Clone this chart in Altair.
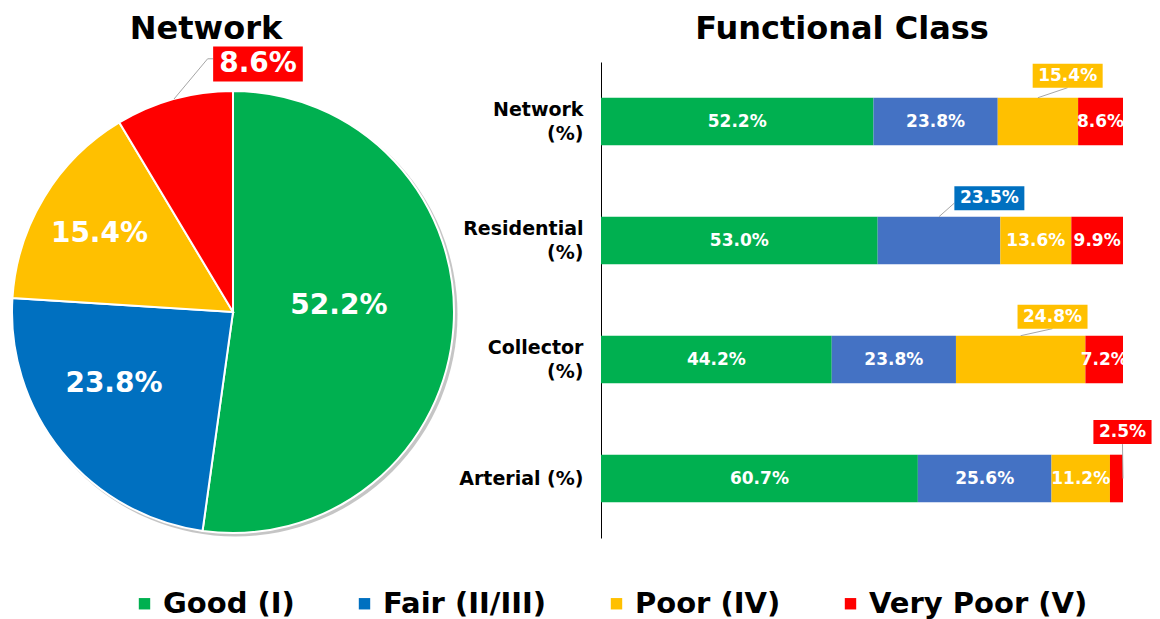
import json
import numpy as np
import pandas as pd
import altair as alt

# ---------------- data ----------------
conditions = ["Good (I)", "Fair (II/III)", "Poor (IV)", "Very Poor (V)"]
pie_colors = ["#00B050", "#0070C0", "#FFC000", "#FF0000"]
bar_colors = ["#00B050", "#4472C4", "#FFC000", "#FF0000"]

network_pct = [52.2, 23.8, 15.4, 8.6]

classes = ["Network", "Residential", "Collector", "Arterial"]
class_tick_labels = ["Network|(%)", "Residential|(%)", "Collector|(%)", "Arterial (%)"]
good = [52.2, 53.0, 44.2, 60.7]
fair = [23.8, 23.5, 23.8, 25.6]
poor = [15.4, 13.6, 24.8, 11.2]
very_poor = [8.6, 9.9, 7.2, 2.5]

# boxed call-out labels in the bar chart (class index, condition index)
callout_class = [0, 1, 2, 3]
callout_cond = [2, 1, 2, 3]
callout_center = [89.4, 74.4, 86.5, 99.9]       # box centre along the % axis
callout_rise = [0.385, 0.355, 0.36, 0.39]       # box centre above the bar centre (rows)
leader_from = ["bottom", "left", "bottom", "bottom"]
leader_to = ["top", "top", "top", "right"]

# pie label placement for the inside labels: radius fraction, angle shift (deg)
pie_label_r = [0.48, 0.63, 0.70]
pie_label_shift = [-7, 8, -1]
pie_callout_center = (0.113, 1.122)             # in radius units

# ---------------- layout constants ----------------
FONT = "DejaVu Sans"
R_PX = 221
PIE_W, PIE_H = 448, 476
CX, CY = 224, 250
BAR_W, BAR_H = 522, 476
PX_PER_PCT = BAR_W / 100.0
PX_PER_ROW = BAR_H / 4.0
LABEL_LH = 24

CHAR_W = {str(d): 0.696 for d in range(10)}
CHAR_W.update({".": 0.380, "%": 1.002})


def text_w(s, size):
    return sum(CHAR_W.get(c, 0.7) for c in s) * size


def fmt(v):
    return f"{v:.1f}%"


# ---------------- pie ----------------
pie_end = np.cumsum(network_pct)
pie_start = pie_end - np.array(network_pct)
pie_df = pd.DataFrame({"cond": conditions, "start": pie_start, "end": pie_end})

xs = alt.Scale(domain=[-CX / R_PX, (PIE_W - CX) / R_PX], nice=False, zero=False)
ys = alt.Scale(domain=[-(PIE_H - CY) / R_PX, CY / R_PX], nice=False, zero=False)
ts = alt.Scale(domain=[0, 100], range=[0, 2 * np.pi])

color_pie = alt.Color(
    "cond:N",
    scale=alt.Scale(domain=conditions, range=pie_colors),
    legend=alt.Legend(
        title=None, orient="none", legendX=121, legendY=527,
        direction="horizontal", columns=4, columnPadding=55,
        symbolType="square", symbolSize=130, symbolStrokeWidth=0,
        labelFont=FONT, labelFontSize=29, labelFontWeight="bold",
        labelColor="black", labelOffset=4, labelLimit=400, padding=0,
    ),
)

shadow_df = pd.DataFrame({"s": [0.0], "e": [100.0], "dx": [2.5 / R_PX], "dy": [-2.5 / R_PX]})
shadow = alt.Chart(shadow_df).mark_arc(radius=R_PX + 1, fill="#7F7F7F", opacity=0.45).encode(
    theta=alt.Theta("s:Q", scale=ts), theta2="e:Q",
    x=alt.X("dx:Q", scale=xs, axis=None),
    y=alt.Y("dy:Q", scale=ys, axis=None),
)

arcs = alt.Chart(pie_df).mark_arc(radius=R_PX, stroke="white", strokeWidth=2).encode(
    theta=alt.Theta("start:Q", scale=ts),
    theta2="end:Q",
    color=color_pie,
    x=alt.XDatum(0, type="quantitative", scale=xs, axis=None),
    y=alt.YDatum(0, type="quantitative", scale=ys, axis=None),
)

mid_ang = (pie_start + pie_end) / 2 / 100 * 2 * np.pi
lab_ang = [mid_ang[i] + np.deg2rad(pie_label_shift[i]) for i in range(3)]
in_lab = pd.DataFrame({
    "x": [pie_label_r[i] * np.sin(lab_ang[i]) for i in range(3)],
    "y": [pie_label_r[i] * np.cos(lab_ang[i]) for i in range(3)],
    "t": [fmt(v) for v in network_pct[:3]],
})
pie_text = alt.Chart(in_lab).mark_text(
    font=FONT, fontSize=28, fontWeight="bold", color="white"
).encode(
    x=alt.X("x:Q", scale=xs, axis=None),
    y=alt.Y("y:Q", scale=ys, axis=None),
    text="t:N",
)

pc_text = fmt(network_pct[3])
bw = (text_w(pc_text, 28) + 12) / R_PX
bh = 35 / R_PX
pcx, pcy = pie_callout_center
pbox_df = pd.DataFrame({"x": [pcx - bw / 2], "x2": [pcx + bw / 2],
                        "y": [pcy - bh / 2], "y2": [pcy + bh / 2],
                        "t": [pc_text], "cx": [pcx], "cy": [pcy]})
pbox = alt.Chart(pbox_df).mark_rect(color=pie_colors[3]).encode(
    x=alt.X("x:Q", scale=xs, axis=None), x2="x2:Q",
    y=alt.Y("y:Q", scale=ys, axis=None), y2="y2:Q",
)
pbox_text = alt.Chart(pbox_df).mark_text(
    font=FONT, fontSize=28, fontWeight="bold", color="white"
).encode(
    x=alt.X("cx:Q", scale=xs, axis=None),
    y=alt.Y("cy:Q", scale=ys, axis=None),
    text="t:N",
)
lead_y = pcy + 0.15 * bh
pleader_df = pd.DataFrame({
    "x": [pcx - bw / 2, pcx - bw / 2 - 0.025, np.sin(mid_ang[3])],
    "y": [lead_y, lead_y, np.cos(mid_ang[3])],
    "o": [0, 1, 2],
})
pleader = alt.Chart(pleader_df).mark_line(color="#A6A6A6", strokeWidth=1).encode(
    x=alt.X("x:Q", scale=xs, axis=None),
    y=alt.Y("y:Q", scale=ys, axis=None),
    order="o:Q",
)

pie_chart = alt.layer(shadow, arcs, pleader, pie_text, pbox, pbox_text).properties(
    width=PIE_W, height=PIE_H,
    title=alt.TitleParams("Network", font=FONT, fontSize=32, fontWeight="bold",
                          color="black", dx=-27, offset=1),
)

# ---------------- bars ----------------
series = [good, fair, poor, very_poor]
rows = []
for ci in range(len(classes)):
    acc = 0.0
    for k in range(4):
        v = series[k][ci]
        rows.append({"ci": ci, "cond": conditions[k], "k": k, "v": v,
                     "start": acc, "end": acc + v, "mid": acc + v / 2,
                     "y": ci + 0.3, "y2": ci + 0.7, "yc": ci + 0.5, "t": fmt(v)})
        acc += v
bar_df = pd.DataFrame(rows)

bx = alt.Scale(domain=[0, 100], nice=False, zero=False)
by = alt.Scale(domain=[0, 4], reverse=True, nice=False, zero=False)

# tick positions: multi-line labels are lifted by half a line so the block is centred
tick_vals = [i + 0.5 - (lab.count("|") * LABEL_LH / 2) / PX_PER_ROW
             for i, lab in enumerate(class_tick_labels)]
label_expr = "split(" + json.dumps(class_tick_labels) + "[floor(datum.value)], '|')"
y_axis = alt.Axis(
    values=tick_vals, labelExpr=label_expr, ticks=False, grid=False,
    domain=True, domainColor="black", domainWidth=1, title=None,
    labelFont=FONT, labelFontSize=19, labelFontWeight="bold", labelColor="black",
    labelPadding=18, labelLineHeight=LABEL_LH, labelAlign="right", labelBaseline="middle",
)

bars = alt.Chart(bar_df).mark_rect().encode(
    x=alt.X("start:Q", scale=bx, axis=None), x2="end:Q",
    y=alt.Y("y:Q", scale=by, axis=y_axis),
    y2="y2:Q",
    color=alt.Color("cond:N", scale=alt.Scale(domain=conditions, range=bar_colors), legend=None),
)

callout_keys = set(zip(callout_class, callout_cond))
inside_df = bar_df[[(r.ci, r.k) not in callout_keys for r in bar_df.itertuples()]]
bar_text = alt.Chart(inside_df).mark_text(
    font=FONT, fontSize=17, fontWeight="bold", color="white"
).encode(
    x=alt.X("mid:Q", scale=bx, axis=None),
    y=alt.Y("yc:Q", scale=by, axis=y_axis),
    text="t:N",
)

crow = []
lrow = []
bh_u = 24 / PX_PER_ROW
for j in range(len(callout_class)):
    ci, k = callout_class[j], callout_cond[j]
    v = series[k][ci]
    t = fmt(v)
    w_u = (text_w(t, 17) + 11) / PX_PER_PCT
    cx = callout_center[j]
    cy = ci + 0.5 - callout_rise[j]
    crow.append({"x": cx - w_u / 2, "x2": cx + w_u / 2, "y": cy - bh_u / 2, "y2": cy + bh_u / 2,
                 "cx": cx, "cy": cy, "t": t, "cond": conditions[k]})
    seg = bar_df[(bar_df.ci == ci) & (bar_df.k == k)].iloc[0]
    if leader_from[j] == "left":
        sx, sy = cx - w_u / 2, cy + bh_u * 0.2
    else:
        sx, sy = cx, cy + bh_u / 2
    if leader_to[j] == "right":
        ex, ey = seg.end, ci + 0.5
    else:
        ex, ey = seg.mid, ci + 0.3
    lrow.append({"x": sx, "y": sy, "x2": ex, "y2": ey})
cbox_df = pd.DataFrame(crow)
lead_df = pd.DataFrame(lrow)

leaders = alt.Chart(lead_df).mark_rule(color="#A6A6A6", strokeWidth=1).encode(
    x=alt.X("x:Q", scale=bx, axis=None), x2="x2:Q",
    y=alt.Y("y:Q", scale=by, axis=y_axis), y2="y2:Q",
)
cbox = alt.Chart(cbox_df).mark_rect().encode(
    x=alt.X("x:Q", scale=bx, axis=None), x2="x2:Q",
    y=alt.Y("y:Q", scale=by, axis=y_axis), y2="y2:Q",
    color=alt.Color("cond:N", scale=alt.Scale(domain=conditions, range=pie_colors), legend=None),
)
cbox_text = alt.Chart(cbox_df).mark_text(
    font=FONT, fontSize=17, fontWeight="bold", color="white"
).encode(
    x=alt.X("cx:Q", scale=bx, axis=None),
    y=alt.Y("cy:Q", scale=by, axis=y_axis),
    text="t:N",
)

bar_chart = alt.layer(bars, bar_text, leaders, cbox, cbox_text).resolve_scale(
    color="independent"
).properties(
    width=BAR_W, height=BAR_H,
    title=alt.TitleParams("Functional Class", font=FONT, fontSize=32, fontWeight="bold",
                          color="black", dx=-20, offset=16),
)

chart = alt.hconcat(pie_chart, bar_chart, spacing=144, bounds="flush").resolve_scale(
    color="independent"
).properties(
    padding={"left": 0, "top": 4, "right": 0, "bottom": 0}
).configure_view(stroke=None)

chart.save("out.html", embed_options={"renderer": "svg", "actions": False})
